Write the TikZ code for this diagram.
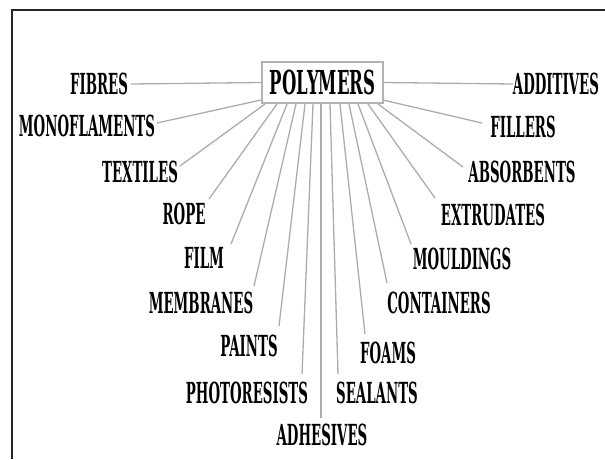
\documentclass[tikz,border=0pt]{standalone}
\usepackage{fontspec}
\setmainfont{DejaVu Serif}
\usepackage{graphicx}
\newcommand{\lbltext}[1]{\scalebox{0.46}[1]{\fontsize{29}{29}\selectfont\bfseries #1}}
\newcommand{\titletext}[1]{\scalebox{0.50}[1]{\fontsize{33}{33}\selectfont\bfseries #1}}
\tikzset{
  lbl/.style={inner sep=0pt, anchor=center},
  conn/.style={draw=gray!65, line width=1.3pt},
  frame/.style={draw=black!85, line width=1.6pt},
  titlebox/.style={draw=gray!60, line width=1.8pt, fill=white, minimum width=121pt, minimum height=41pt, inner sep=0pt}
}
\begin{document}
\begin{tikzpicture}[x=1pt,y=-1pt]
\useasboundingbox (0,0) rectangle (605,459);
% frame
\coordinate (ftr) at (605,10);
\coordinate (ftl) at (12,10);
\coordinate (fbl) at (12,459);
\draw[frame] (ftr) -- (ftl) -- (fbl);
% title
\node[titlebox] (poly) at (322.5,82.5) {\titletext{POLYMERS}};
% labels
\node[lbl] (fibres) at (99,84) {\lbltext{FIBRES}};
\node[lbl] (mono) at (87,126) {\lbltext{MONOFLAMENTS}};
\node[lbl] (textiles) at (140,172) {\lbltext{TEXTILES}};
\node[lbl] (rope) at (184,214) {\lbltext{ROPE}};
\node[lbl] (film) at (204,258) {\lbltext{FILM}};
\node[lbl] (membranes) at (201,303) {\lbltext{MEMBRANES}};
\node[lbl] (paints) at (249,346) {\lbltext{PAINTS}};
\node[lbl] (photo) at (247,393) {\lbltext{PHOTORESISTS}};
\node[lbl] (adhesives) at (322,435) {\lbltext{ADHESIVES}};
\node[lbl] (sealants) at (377,393) {\lbltext{SEALANTS}};
\node[lbl] (foams) at (388,353) {\lbltext{FOAMS}};
\node[lbl] (containers) at (439,303) {\lbltext{CONTAINERS}};
\node[lbl] (mouldings) at (462,259) {\lbltext{MOULDINGS}};
\node[lbl] (extrudates) at (493,215) {\lbltext{EXTRUDATES}};
\node[lbl] (absorbents) at (522,172) {\lbltext{ABSORBENTS}};
\node[lbl] (fillers) at (523,127) {\lbltext{FILLERS}};
\node[lbl] (additives) at (556,84) {\lbltext{ADDITIVES}};
% label-side ends
\coordinate (e-fibres) at (131,84);
\coordinate (e-mono) at (157,123);
\coordinate (e-textiles) at (180,166);
\coordinate (e-rope) at (209,199);
\coordinate (e-film) at (231,244);
\coordinate (e-membranes) at (254,286);
\coordinate (e-paints) at (279,326);
\coordinate (e-photo) at (302,374);
\coordinate (e-adhesives) at (321,418);
\coordinate (e-sealants) at (338,374);
\coordinate (e-foams) at (365,334);
\coordinate (e-containers) at (387,283);
\coordinate (e-mouldings) at (411,244);
\coordinate (e-extrudates) at (435,198);
\coordinate (e-absorbents) at (463,167);
\coordinate (e-fillers) at (482,123);
\coordinate (e-additives) at (513,84);
% box-side ends
\coordinate (s-mono) at (261,100);
\coordinate (s-textiles) at (265,104);
\coordinate (s-rope) at (277,104);
\coordinate (s-film) at (287,104);
\coordinate (s-membranes) at (296,104);
\coordinate (s-paints) at (305,104);
\coordinate (s-photo) at (313,104);
\coordinate (s-adhesives) at (321,104);
\coordinate (s-sealants) at (330,104);
\coordinate (s-foams) at (340,104);
\coordinate (s-containers) at (349,104);
\coordinate (s-mouldings) at (358,104);
\coordinate (s-extrudates) at (368,104);
\coordinate (s-absorbents) at (378,104);
\coordinate (s-fillers) at (383,100);
% connectors
\draw[conn] (e-fibres) -- (poly.west);
\draw[conn] (poly.east) -- (e-additives);
\foreach \n in {mono,textiles,rope,film,membranes,paints,photo,adhesives,sealants,foams,containers,mouldings,extrudates,absorbents,fillers}{
  \draw[conn] (e-\n) -- (s-\n);
}
% redraw box on top
\node[titlebox] at (poly) {\titletext{POLYMERS}};
\end{tikzpicture}
\end{document}
